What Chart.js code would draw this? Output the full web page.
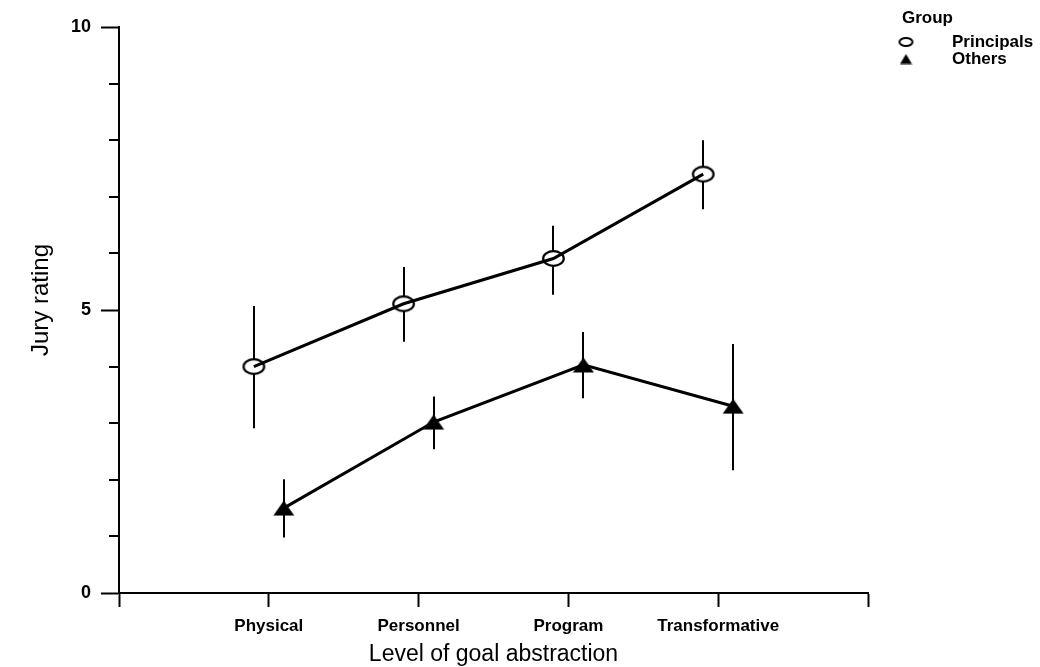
<!DOCTYPE html>
<html><head><meta charset="utf-8">
<script src="https://cdn.jsdelivr.net/npm/chart.js@4.4.1/dist/chart.umd.min.js"></script>
<style>html,body{margin:0;padding:0;background:#fff;}canvas{display:block;}</style>
</head><body>
<canvas id="c" width="1040" height="667"></canvas>
<script>
// ---- data ----
const categories = ['Physical', 'Personnel', 'Program', 'Transformative'];
const xTickLabels = ['', 'Physical', 'Personnel', 'Program', 'Transformative', ''];
const yTickLabels = [0, 5, 10];
const seriesNames = ['Principals', 'Others'];
const principalsMean = [4.00, 5.11, 5.91, 7.40];
const principalsHigh = [5.07, 5.76, 6.49, 8.00];
const principalsLow  = [2.91, 4.44, 5.27, 6.78];
const othersMean = [1.50, 3.02, 4.03, 3.30];
const othersHigh = [2.01, 3.47, 4.61, 4.40];
const othersLow  = [0.98, 2.54, 3.44, 2.17];
const dodge = 0.1;
const legendTitle = 'Group';

const FONT = "'Liberation Sans', Arial, Helvetica, sans-serif";
Chart.defaults.font.family = FONT;
Chart.defaults.color = '#000';

function ellipseImg(w, h, lw) {
  const c = document.createElement('canvas'); c.width = w; c.height = h;
  const g = c.getContext('2d');
  g.beginPath(); g.ellipse(w / 2, h / 2, w / 2 - lw, h / 2 - lw, 0, 0, Math.PI * 2);
  g.fillStyle = '#fff'; g.fill(); g.lineWidth = lw; g.strokeStyle = '#000'; g.stroke();
  return c;
}
function triangleImg(w, h) {
  const c = document.createElement('canvas'); c.width = w; c.height = h;
  const g = c.getContext('2d');
  g.beginPath(); g.moveTo(w / 2, 0.5); g.lineTo(w - 0.5, h - 0.5); g.lineTo(0.5, h - 0.5); g.closePath();
  g.fillStyle = '#000'; g.fill();
  return c;
}
const ellipseBig = ellipseImg(25, 19, 2.2);
const triBig = triangleImg(22, 16);
const ellipseSmall = ellipseImg(17, 12, 2);
const triSmall = triangleImg(13, 11);

const pts = (arr, off) => arr.map((v, i) => ({ x: i + 1 + off, y: v }));

const errorBars = {
  id: 'errorBars',
  beforeDatasetsDraw(chart) {
    const ctx = chart.ctx, xs = chart.scales.x, ys = chart.scales.y;
    chart.data.datasets.forEach(ds => {
      if (!ds.errLow) return;
      ctx.save(); ctx.strokeStyle = '#000'; ctx.lineWidth = 2;
      ds.data.forEach((p, i) => {
        const x = Math.round(xs.getPixelForValue(p.x));
        ctx.beginPath();
        ctx.moveTo(x, ys.getPixelForValue(ds.errLow[i]));
        ctx.lineTo(x, ys.getPixelForValue(ds.errHigh[i]));
        ctx.stroke();
      });
      ctx.restore();
    });
  }
};

const minorTicks = {
  id: 'minorTicks',
  afterDraw(chart) {
    const ctx = chart.ctx, ys = chart.scales.y;
    ctx.save(); ctx.strokeStyle = '#000'; ctx.lineWidth = 2;
    ys.ticks.forEach(t => {
      if (t.value % 5 !== 0) {
        const y = Math.round(ys.getPixelForValue(t.value));
        ctx.beginPath(); ctx.moveTo(ys.right - 10, y); ctx.lineTo(ys.right, y); ctx.stroke();
      }
    });
    ctx.restore();
  }
};

const groupLegend = {
  id: 'groupLegend',
  afterDraw(chart) {
    const ctx = chart.ctx;
    ctx.save();
    ctx.fillStyle = '#000'; ctx.textBaseline = 'middle'; ctx.textAlign = 'left';
    ctx.font = 'bold 17px ' + FONT;
    ctx.fillText(legendTitle, 902, 18);
    const imgs = [ellipseSmall, triSmall];
    const ys = [42, 59];
    seriesNames.forEach((n, i) => {
      const im = imgs[i];
      ctx.drawImage(im, 906 - im.width / 2, ys[i] - im.height / 2);
      ctx.fillText(n, 952, ys[i]);
    });
    ctx.restore();
  }
};

new Chart(document.getElementById('c'), {
  type: 'scatter',
  data: {
    datasets: [
      { label: seriesNames[0] + ' line', data: pts(principalsMean, -dodge), showLine: true,
        borderColor: '#000', borderWidth: 3, pointRadius: 0, order: 0 },
      { label: seriesNames[1] + ' line', data: pts(othersMean, dodge), showLine: true,
        borderColor: '#000', borderWidth: 3, pointRadius: 0, order: 0 },
      { label: seriesNames[0], data: pts(principalsMean, -dodge), showLine: false,
        pointStyle: ellipseBig, errLow: principalsLow, errHigh: principalsHigh, order: 1 },
      { label: seriesNames[1], data: pts(othersMean, dodge), showLine: false,
        pointStyle: triBig, errLow: othersLow, errHigh: othersHigh, order: 1 }
    ]
  },
  options: {
    responsive: false,
    animation: false,
    devicePixelRatio: 1,
    layout: { padding: { left: 0, right: 172, top: 27, bottom: 0 } },
    plugins: { legend: { display: false }, tooltip: { enabled: false } },
    scales: {
      x: {
        type: 'linear', min: 0, max: 5,
        afterFit(s) { s.height = 74; },
        ticks: { stepSize: 1, autoSkip: false, maxRotation: 0, padding: 9,
          font: { size: 17, weight: 'bold' },
          callback: v => xTickLabels[v] ?? '' },
        grid: { drawOnChartArea: false, tickLength: 14, tickWidth: 2, tickColor: '#000' },
        border: { display: true, color: '#000', width: 2 },
        title: { display: true, text: 'Level of goal abstraction', font: { size: 23, lineHeight: 1.1 }, padding: { top: 0, bottom: 0 } }
      },
      y: {
        type: 'linear', min: 0, max: 10,
        afterFit(s) { s.width = 119; },
        ticks: { stepSize: 1, autoSkip: false, padding: 10,
          font: { size: 18, weight: 'bold' },
          callback: v => yTickLabels.includes(v) ? String(v) : '' },
        grid: { drawOnChartArea: false, tickLength: 18, tickWidth: 2,
          tickColor: c => (c.tick && c.tick.value % 5 === 0) ? '#000' : 'rgba(0,0,0,0)' },
        border: { display: true, color: '#000', width: 2 },
        title: { display: true, text: '   Jury rating', font: { size: 24 }, padding: { top: 27, bottom: 0 } }
      }
    }
  },
  plugins: [errorBars, minorTicks, groupLegend]
});
</script>
</body></html>
